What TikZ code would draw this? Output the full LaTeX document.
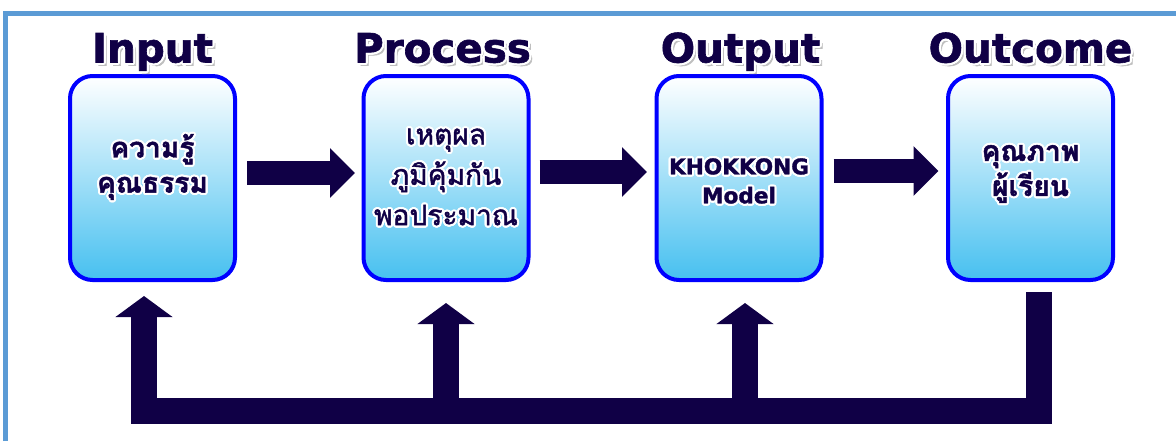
\documentclass[tikz,border=0pt]{standalone}
\usepackage{fontspec}
\usepackage{xcolor}
\usepackage{tikz}
\usetikzlibrary{arrows.meta,calc}
\usepackage{contour}
\newfontfamily\thaifont[Script=Thai,UprightFeatures={FakeBold=1.5},BoldFeatures={FakeBold=1.5}]{Loma}
\newfontfamily\headfont[UprightFeatures={FakeBold=1.5},BoldFeatures={FakeBold=1.5}]{DejaVu Sans}
\definecolor{navy}{RGB}{16,0,70}
\definecolor{frameblue}{RGB}{91,155,213}
\definecolor{boxblue}{RGB}{0,0,255}
\definecolor{skyblue}{RGB}{70,192,240}
\contourlength{1.2pt}
\tikzset{
  box/.style={draw=boxblue, line width=0.08cm, rounded corners=0.45cm, top color=white, bottom color=skyblue, minimum width=3.3cm, minimum height=4.08cm},
  title/.style={anchor=base, inner sep=0pt, text=navy, font=\headfont\bfseries\fontsize{23}{26}\selectfont},
  shade/.style={title, text=black!25},
  txt/.style={align=center, text=navy, font=\thaifont\bfseries\fontsize{16}{20}\selectfont},
  latin/.style={align=center, text=navy, font=\headfont\bfseries\fontsize{12.3}{16.5}\selectfont},
  flow/.style={navy, line width=0.48cm, -{Triangle[length=0.5cm,width=0.96cm]}},
  fb/.style={navy, line width=0.52cm},
  fbtip/.style={-{Triangle[length=0.42cm,width=1.12cm]}}
}
\begin{document}
\begin{tikzpicture}
\useasboundingbox (0,0) rectangle (23.52,8.82);
\draw[frameblue, line width=0.1cm] (0.1,0) -- (0.1,8.55) -- (23.52,8.55);

\node[box] (in) at (3.05,5.26) {};
\node[box] (proc) at (8.92,5.26) {};
\node[box] (out) at (14.78,5.26) {};
\node[box] (oc) at (20.61,5.26) {};

\node[shade] (sin) at (3.11,7.51) {Input};
\node[shade] (sproc) at (8.91,7.51) {Process};
\node[shade] (sout) at (14.87,7.51) {Output};
\node[shade] (soc) at (20.67,7.51) {Outcome};
\node[title] (tin) at (3.05,7.57) {\contour{white}{Input}};
\node[title] (tproc) at (8.85,7.57) {\contour{white}{Process}};
\node[title] (tout) at (14.81,7.57) {\contour{white}{Output}};
\node[title] (toc) at (20.61,7.57) {\contour{white}{Outcome}};

\node[txt] (lin) at ([yshift=0.2cm]in.center) {\contour{white}{ความรู้}\\\contour{white}{คุณธรรม}};
\node[txt, font=\thaifont\fontsize{16}{23}\selectfont] (lproc) at (proc.center) {\contour{white}{เหตุผล}\\\contour{white}{ภูมิคุ้มกัน}\\\contour{white}{พอประมาณ}};
\node[latin] (lout) at ([yshift=-0.08cm]out.center) {\contour{white}{KHOKKONG}\\\contour{white}{Model}};
\node[txt] (loc) at ([yshift=0.06cm]oc.center) {\contour{white}{คุณภาพ}\\\contour{white}{ผู้เรียน}};

\draw[flow] ([xshift=0.2cm,yshift=0.1cm]in.east) -- ([xshift=-0.13cm,yshift=0.1cm]proc.west);
\draw[flow] ([xshift=0.18cm,yshift=0.12cm]proc.east) -- ([xshift=-0.15cm,yshift=0.12cm]out.west);
\draw[flow] ([xshift=0.2cm,yshift=0.14cm]out.east) -- ([xshift=-0.15cm,yshift=0.14cm]oc.west);

\coordinate (base) at (0,0.61);
\coordinate (fbr) at ([xshift=0.16cm,yshift=-0.2cm]oc.south);
\coordinate (fbl) at ([xshift=-0.17cm,yshift=-0.28cm]in.south);
\draw[fb, fbtip] (fbr) -- (fbr |- base) -| (fbl);
\draw[fb, fbtip] (proc.south |- base) -- ([yshift=-0.42cm]proc.south);
\draw[fb, fbtip] ([xshift=0.12cm]out.south |- base) -- ([xshift=0.12cm,yshift=-0.42cm]out.south);
\end{tikzpicture}
\end{document}
